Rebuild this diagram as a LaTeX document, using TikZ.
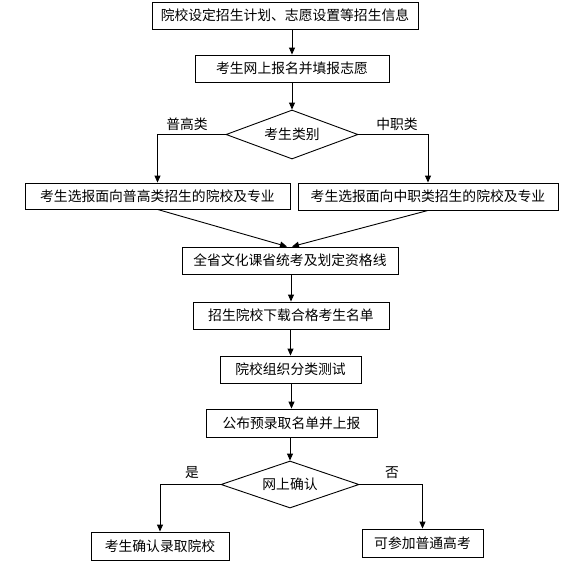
\documentclass[tikz,border=0pt]{standalone}
\usepackage{fontspec}
\newfontfamily\cjk{Noto Sans CJK SC}
\usetikzlibrary{shapes.geometric,arrows.meta}
\begin{document}
\begin{tikzpicture}[x=1pt,y=-1pt,
  txt/.style={font=\cjk\fontsize{13.8pt}{16pt}\selectfont},
  box/.style={txt,draw,line width=0.9pt,rectangle,inner sep=0pt},
  dia/.style={txt,draw,line width=0.9pt,diamond,shape aspect=2.7,inner sep=0pt},
  lbl/.style={txt,inner sep=0pt},
  arr/.style={line width=0.9pt,-{Triangle[width=6pt,length=7pt]}}]
\fill[white] (0,0) rectangle (574,565);
\useasboundingbox (0,0) rectangle (574,565);

\node[box,minimum width=266pt,minimum height=27pt] (b1) at (285,15.5) {院校设定招生计划、志愿设置等招生信息};
\node[box,minimum width=194pt,minimum height=27pt] (b2) at (292,68.5) {考生网上报名并填报志愿};
\node[dia,minimum width=132pt,minimum height=49pt] (d1) at (292,134.5) {考生类别};
\node[box,minimum width=265pt,minimum height=26pt] (bl) at (157.5,196) {考生选报面向普高类招生的院校及专业};
\node[box,minimum width=260pt,minimum height=27pt] (br) at (428,196.5) {考生选报面向中职类招生的院校及专业};
\node[box,minimum width=216pt,minimum height=27pt] (b3) at (290,260.5) {全省文化课省统考及划定资格线};
\node[box,minimum width=196pt,minimum height=27pt] (b4) at (291,315.5) {招生院校下载合格考生名单};
\node[box,minimum width=141pt,minimum height=27pt] (b5) at (290.5,369.5) {院校组织分类测试};
\node[box,minimum width=171pt,minimum height=28pt] (b6) at (291.5,423) {公布预录取名单并上报};
\node[dia,minimum width=138pt,minimum height=47pt] (d2) at (290,484.5) {网上确认};
\node[box,minimum width=138pt,minimum height=28pt] (bl2) at (160,546) {考生确认录取院校};
\node[box,minimum width=121pt,minimum height=28pt] (br2) at (422.5,543) {可参加普通高考};

\node[lbl] (l1) at (187,124) {普高类};
\node[lbl] (l2) at (397,124) {中职类};
\node[lbl] (l3) at (192,473) {是};
\node[lbl] (l4) at (392,473) {否};

\draw[arr] (b1.south -| b2.north) -- (b2.north);
\draw[arr] (b2.south) -- (d1.north);
\draw[arr] (d1.west) -| (bl.north);
\draw[arr] (d1.east) -| (br.north);
\draw[arr] (bl.south) -- ([xshift=-3pt]b3.north);
\draw[arr] (br.south) -- ([xshift=2pt]b3.north);
\draw[arr] (b3.south -| b4.north) -- (b4.north);
\draw[arr] (b4.south -| b5.north) -- (b5.north);
\draw[arr] (b5.south -| b6.north) -- (b6.north);
\draw[arr] (b6.south -| d2.north) -- (d2.north);
\draw[arr] (d2.west) -| (bl2.north);
\draw[arr] (d2.east) -| (br2.north);
\end{tikzpicture}
\end{document}
